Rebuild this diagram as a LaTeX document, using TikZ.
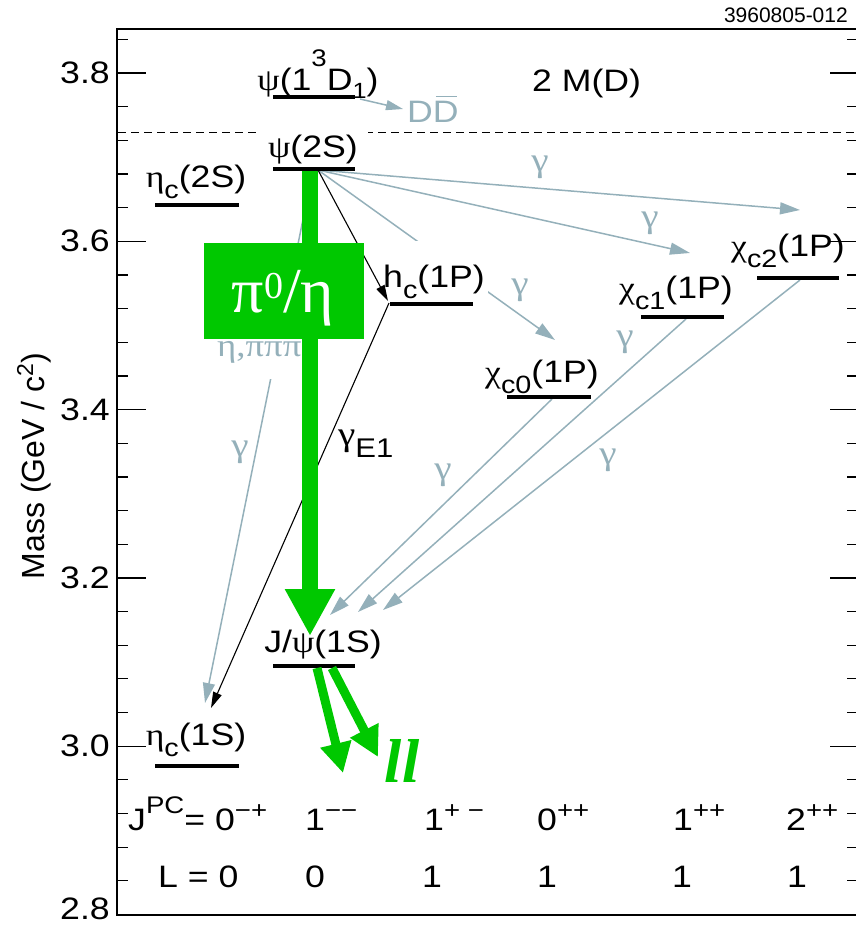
\documentclass[tikz,border=0pt]{standalone}
\usepackage{fontspec}
\usepackage{graphicx}
\setmainfont{Liberation Sans}
\newfontfamily\grk{Liberation Serif}
\usetikzlibrary{arrows.meta}
\definecolor{gr}{RGB}{148,176,186}
\definecolor{gg}{RGB}{0,200,0}
\newcommand\fs[1]{\fontsize{#1}{#1}\selectfont}
\newcommand\hs[1]{\scalebox{1.15}[1]{#1}}
\newcommand\sbs[1]{\raisebox{-11pt}{\fs{25}#1}}
\newcommand\chg[1]{\raisebox{12pt}{\fs{24}#1}}
\newcommand\G[1]{{\grk #1}}
\newcommand\dbar{\makebox[0pt][l]{\kern0.08em\rule[0.8em]{0.6em}{1.5pt}}D}
\begin{document}
\begin{tikzpicture}[x=1pt,y=-1pt,
  every node/.style={inner sep=0pt, font=\fs{31}},
  lvl/.style={line width=4.5pt},
  lab/.style={anchor=base},
  graya/.style={draw=gr, line width=1.5pt, -{Triangle[length=20pt,width=12pt]}},
  blacka/.style={draw=black, line width=1.1pt, -{Triangle[length=16pt,width=9pt]}},
  glab/.style={text=gr, font=\fs{34}\grk, anchor=center},
  tick/.style={line width=1.2pt}]
\useasboundingbox (0,0) rectangle (856,926);
% frame
\draw[line width=2pt] (859,29) -- (117,29) -- (117,915) -- (859,915);
\foreach \i in {0,...,26}{
  \pgfmathsetmacro\yy{914.5-\i*33.66}
  \draw[tick] (117,\yy) -- (128,\yy);
  \draw[tick] (847,\yy) -- (856,\yy);
}
\foreach \i/\lab in {5/3.0,10/3.2,15/3.4,20/3.6,25/3.8}{
  \pgfmathsetmacro\yy{914.5-\i*33.66}
  \draw[tick] (117,\yy) -- (146,\yy);
  \draw[tick] (830,\yy) -- (856,\yy);
  \node[anchor=east] at (110,\yy) {\hs{\lab}};
}
\draw[tick] (117,914.5) -- (146,914.5);
\draw[tick] (830,914.5) -- (856,914.5);
\node[anchor=east] (t28) at (110,909) {\hs{2.8}};
\node[rotate=90, anchor=base] (ylab) at (44,466) {\fs{32}Mass (GeV / c\raisebox{11pt}{\fs{23}2})};
\node[anchor=base east, font=\fs{21}] (code) at (848,23) {3960805-012};
% threshold
\coordinate (dashL) at (118,132);
\coordinate (dashR) at (856,132);
\draw[dash pattern=on 8pt off 5pt, line width=1pt] (dashL) -- (dashR);
% coordinates
\coordinate (D1a) at (273,97);   \coordinate (D1b) at (355,97);
\coordinate (P2a) at (273,169);  \coordinate (P2b) at (355,169);
\coordinate (E2a) at (155,205);  \coordinate (E2b) at (239,205);
\coordinate (HCa) at (390,304);  \coordinate (HCb) at (473,304);
\coordinate (C0a) at (507,397);  \coordinate (C0b) at (591,397);
\coordinate (C1a) at (641,317);  \coordinate (C1b) at (724,317);
\coordinate (C2a) at (757,278);  \coordinate (C2b) at (839,278);
\coordinate (JPa) at (273,666);  \coordinate (JPb) at (355,666);
\coordinate (E1a) at (155,766);  \coordinate (E1b) at (239,766);
\coordinate (psiOut) at (318,170);
\coordinate (psiOutL) at (313,170);
\coordinate (D1out) at (360,99);
\coordinate (DDin) at (403,109);
\coordinate (chi2in) at (800,210);
\coordinate (chi1in) at (690,253);
\coordinate (chi0in) at (555,340);
\coordinate (etaGin) at (205,703);
\coordinate (etaBin) at (211,708);
\coordinate (hcin) at (388,301);
\coordinate (hcout) at (389,303);
\coordinate (chi0out) at (552,399);
\coordinate (chi1out) at (686,319);
\coordinate (chi2out) at (800,280);
\coordinate (jin0) at (330,615);
\coordinate (jin1) at (358,612);
\coordinate (jin2) at (383,610);
\coordinate (gtop) at (310,171);
\coordinate (gtip) at (310,636);
\coordinate (l1s) at (317,668);
\coordinate (l1e) at (343,773);
\coordinate (l2s) at (332,668);
\coordinate (l2e) at (378,757);
% gray transitions
\draw[graya] (psiOut) -- (chi2in);
\draw[graya] (psiOut) -- (chi1in);
\draw[graya] (psiOut) -- (chi0in);
\draw[graya] (psiOutL) -- (etaGin);
\draw[graya] (chi0out) -- (jin0);
\draw[graya] (chi1out) -- (jin1);
\draw[graya] (chi2out) -- (jin2);
\draw[graya, -{Triangle[length=17pt,width=10pt]}] (D1out) -- (DDin);
% labels
\node[lab] (lD1) at (318,90) {\hs{\G{ψ}(1\raisebox{24pt}{\fs{24}3}D\raisebox{-8pt}{\fs{22}1})}};
\node[lab, fill=white, inner xsep=10pt, inner ysep=4pt] (lpsi2S) at (313,157) {\hs{\G{ψ}(2S)}};
\node[lab] (letac2S) at (196,187) {\hs{\G{η}\sbs{c}(2S)}};
\node[lab, fill=white, inner xsep=3pt, inner ysep=24pt] (lhc) at (434,287) {\hs{h\sbs{c}(1P)}};
\node[lab] (lchic0) at (542,382) {\hs{\G{χ}\sbs{c0}(1P)}};
\node[lab] (lchic1) at (676,298) {\hs{\G{χ}\sbs{c1}(1P)}};
\node[lab] (lchic2) at (788,256) {\hs{\G{χ}\sbs{c2}(1P)}};
\node[lab] (ljpsi) at (323,652) {\hs{J/\G{ψ}(1S)}};
\node[lab] (letac1S) at (196,745) {\hs{\G{η}\sbs{c}(1S)}};
\node[anchor=base west] (l2MD) at (532,91) {\hs{2 M(D)}};
\node[anchor=base west, text=gr] (lDD) at (407,122) {\hs{D\dbar}};
\node[anchor=base west, text=gr, fill=white, inner xsep=2pt, inner ysep=16pt] (letapi) at (215,356) {\hs{\fs{32}\grk η,πππ}};
% gamma labels
\node[glab] (g1) at (540,167) {\hs{γ}};
\node[glab] (g2) at (650,223) {\hs{γ}};
\node[glab] (g3) at (520,290) {\hs{γ}};
\node[glab] (g4) at (625,342) {\hs{γ}};
\node[glab] (g5) at (443,475) {\hs{γ}};
\node[glab] (g6) at (608,460) {\hs{γ}};
\node[glab] (g7) at (240,452) {\hs{γ}};
\node[anchor=base west] (gE1) at (338,445) {\hs{\G{\fs{34}γ}\raisebox{-12pt}{\fs{27}E1}}};
% bottom quantum numbers
\node[anchor=base west] (jpc) at (128,830) {\hs{J\raisebox{17pt}{\fs{24}PC}= 0\chg{−+}}};
\node[anchor=base west] (q1) at (305,830) {\hs{1\chg{−−}}};
\node[anchor=base west] (q2) at (424,830) {\hs{1\chg{+ −}}};
\node[anchor=base west] (q3) at (537,830) {\hs{0\chg{++}}};
\node[anchor=base west] (q4) at (673,830) {\hs{1\chg{++}}};
\node[anchor=base west] (q5) at (786,830) {\hs{2\chg{++}}};
\node[anchor=base west] (L0) at (158,887) {\hs{L = 0}};
\node[lab] (L1) at (315,887) {\hs{0}};
\node[lab] (L2) at (432,887) {\hs{1}};
\node[lab] (L3) at (547,887) {\hs{1}};
\node[lab] (L4) at (682,887) {\hs{1}};
\node[lab] (L5) at (797,887) {\hs{1}};
% level bars
\foreach \a/\b in {D1a/D1b,P2a/P2b,E2a/E2b,HCa/HCb,C0a/C0b,C1a/C1b,C2a/C2b,JPa/JPb,E1a/E1b}
  \draw[lvl] (\a) -- (\b);
% black transitions
\draw[blacka] (psiOut) -- (hcin);
\draw[blacka] (hcout) -- (etaBin);
% green overlay
\draw[gg, line width=16pt, -{Triangle[length=47pt,width=47pt]}] (gtop) -- (gtip);
\node[fill=gg, minimum width=160pt, minimum height=96pt] (pibox) at (284,291) {};
\node[anchor=base, text=white] (pitext) at (283,312) {\fs{64}\grk π\raisebox{14pt}{\fs{38}0}/η};
\draw[gg, line width=9pt, -{Triangle[length=30pt,width=30pt]}] (l1s) -- (l1e);
\draw[gg, line width=9pt, -{Triangle[length=30pt,width=30pt]}] (l2s) -- (l2e);
\node[anchor=base, text=gg] (ll) at (402,782) {\fs{62}\grk\bfseries\itshape ll};
\end{tikzpicture}
\end{document}
